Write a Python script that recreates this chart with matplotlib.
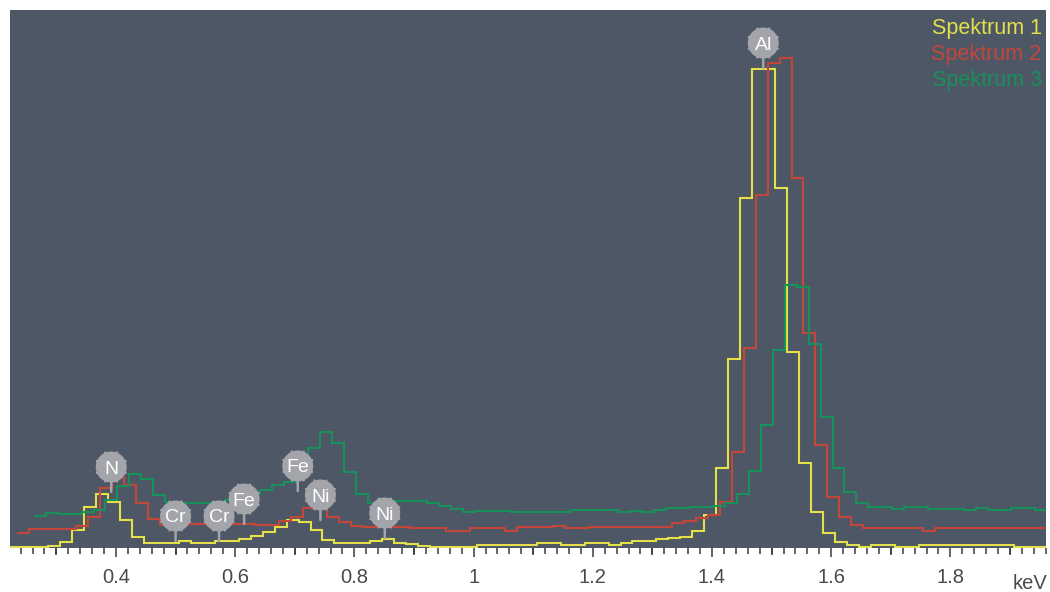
import numpy as np
import matplotlib
matplotlib.use("Agg")
import matplotlib.pyplot as plt
from matplotlib.ticker import MultipleLocator, FixedLocator, FuncFormatter
from matplotlib.transforms import offset_copy

plt.rcParams["font.family"] = ["Liberation Sans", "DejaVu Sans"]

# --- spectrum data: counts per 20 eV channel -------------------------------
channel_width = 0.02  # keV
n_channels = 88
channel_start = {  # lower edge of the first channel, keV
    "Spektrum 1": 0.2065,
    "Spektrum 2": 0.2135,
    "Spektrum 3": 0.2023,
}

spektrum_1 = [1, 1, 1, 1, 2, 6, 18, 41, 54, 46,
              28, 11, 5, 5, 5, 7, 5, 5, 7, 7,
              9, 12, 16, 21, 28, 26, 18, 8, 5, 5,
              5, 7, 9, 5, 4, 2.5, 1.5, 1.5, 1.5, 1.5,
              3, 3, 3, 3, 3, 5, 5, 3, 3, 5,
              5, 3, 5, 7, 7, 9, 10, 11, 17, 33,
              80, 189, 350, 479, 479, 360, 196, 85, 36, 15,
              6, 3.5, 1.5, 3.5, 3.5, 1.5, 1.5, 3.5, 3.5, 3.5,
              3.5, 3.5, 3.5, 3.5, 3.5, 1.5, 1.5, 1.5]

spektrum_2 = [np.nan, 15, 18.7, 18.7, 18.7, 18.7, 22, 31, 60, 71,
              63, 45, 28.7, 23, 24, 24, 24, 24, 24, 24,
              24, 23, 23, 27, 31, 40, 41, 31.3, 26.3, 22,
              20.7, 21.3, 21.3, 21.3, 19.7, 19.7, 19.7, 17.3, 17.3, 19.7,
              19.7, 19.7, 17.3, 21, 21, 21, 22.5, 19.7, 19.7, 21.3,
              21.3, 21.3, 21.3, 21.3, 21.3, 21.3, 24.7, 27, 30, 33,
              46.3, 96.3, 200.5, 353, 484.7, 489.7, 370.3, 214.7, 103, 51.3,
              31.5, 23.5, 19.7, 19.7, 19.7, 19.7, 19.7, 17.3, 19.7, 19.7,
              19.7, 19.7, 19.7, 19.7, 19.7, 19.7, 19.7, 19.7]

spektrum_3 = [np.nan, np.nan, np.nan, 32, 34.7, 34, 34, 36.3, 38, 48,
              62, 74, 68.7, 53, 46.3, 44.7, 44.7, 45.5, 46.3, 48,
              50, 54, 58.5, 62.7, 66, 78, 99.7, 116.3, 104.7, 76.3,
              54, 45, 45, 47, 47, 47, 45.3, 42, 38.7, 36.3,
              37.5, 37.5, 37.5, 35.7, 35.7, 35.7, 35.7, 35.7, 38, 38,
              38, 38, 35.7, 37.3, 35.7, 38, 39.7, 40.5, 41.3, 41.3,
              42, 44.7, 54, 77.3, 123, 198, 263, 261.3, 204, 131.3,
              79.7, 56.3, 44.7, 41.3, 41, 38.7, 41, 41, 39.3, 39.3,
              39.3, 38, 39.7, 38, 38, 39.7, 39.7, 38]

series_names = ["Spektrum 1", "Spektrum 2", "Spektrum 3"]
series_values = [spektrum_1, spektrum_2, spektrum_3]
series_colors = ["#e4e04a", "#c4463a", "#17905c"]

# element line identifications (keV) and the level their pin points to
element_labels = ["N", "Cr", "Cr", "Fe", "Fe", "Ni", "Ni", "Al"]
element_energy = [0.392, 0.500, 0.573, 0.615, 0.705, 0.743, 0.851, 1.486]
element_level = [56, 7, 7, 24, 57, 28, 10, 480]

tick_values = [0.4, 0.6, 0.8, 1.0, 1.2, 1.4, 1.6, 1.8]

# --- figure ---------------------------------------------------------------
W, H = 1050, 592
fig = plt.figure(figsize=(W / 100, H / 100), dpi=100, facecolor="white")
ax_left, ax_right, ax_top, ax_bottom = 10, 1046, 10, 548
ax = fig.add_axes([ax_left / W, (H - ax_bottom) / H,
                   (ax_right - ax_left) / W, (ax_bottom - ax_top) / H])
ax.set_facecolor("#4e5765")
ax.set_xlim(0.2222, 1.9604)
ax.set_ylim(0, 538)
for s in ax.spines.values():
    s.set_visible(False)

draw_order = [2, 0, 1]
for i in draw_order:
    vals = np.asarray(series_values[i], dtype=float)
    valid = ~np.isnan(vals)
    first = np.argmax(valid)
    edges = channel_start[series_names[i]] + channel_width * np.arange(n_channels + 1)
    ax.stairs(vals[first:], edges[first:], baseline=None, fill=False,
              color=series_colors[i], lw=1.5, zorder=3 + i)

# legend text in the upper right corner
for k, (name, col) in enumerate(zip(series_names, series_colors)):
    ybase = 34 + 26 * k
    ax.text(1 - 4.5 / (ax_right - ax_left),
            1 - (ybase - ax_top) / (ax_bottom - ax_top),
            name, color=col, fontsize=15.5, ha="right", va="baseline",
            transform=ax.transAxes, zorder=10)

# element markers: grey pin with a round head
pin_grey = "#a3a5ab"
head_r = 15.5    # px
lift = 25        # px from pin tip to head centre
for lab, e, lvl in zip(element_labels, element_energy, element_level):
    ax.annotate("", xy=(e, lvl), xytext=(0, lift - head_r + 1),
                textcoords="offset pixels",
                arrowprops=dict(arrowstyle="-", color=pin_grey, lw=1.8,
                                shrinkA=0, shrinkB=0), zorder=8)
    head = offset_copy(ax.transData, fig=fig, x=0, y=lift, units="dots")
    ax.scatter([e], [lvl], s=(2 * head_r * 0.72) ** 2, color=pin_grey,
               edgecolors="none", transform=head, zorder=9, clip_on=False)
    for a in np.arange(8) * np.pi / 4 + np.pi / 8:
        nub = offset_copy(ax.transData, fig=fig, x=head_r * np.cos(a),
                          y=lift + head_r * np.sin(a), units="dots")
        ax.scatter([e], [lvl], s=3, color=pin_grey, edgecolors="none",
                   transform=nub, zorder=9, clip_on=False)
    txt = offset_copy(ax.transData, fig=fig, x=0, y=lift, units="dots")
    ax.text(e, lvl, lab, color="white", fontsize=14, ha="center",
            va="center_baseline", transform=txt, zorder=10)

# x axis: labelled every 0.2 keV, medium ticks at 0.1, small ticks at 0.02
ax.xaxis.set_major_locator(FixedLocator(tick_values))
ax.xaxis.set_major_formatter(FuncFormatter(lambda v, p: f"{v:g}"))
ax.xaxis.set_minor_locator(MultipleLocator(0.02))
ax.tick_params(axis="x", which="major", length=6.6, width=1.1, color="#3a3a3a",
               labelsize=14.5, labelcolor="#4a4a4a", pad=8)
ax.tick_params(axis="x", which="minor", length=4.1, width=1.1, color="#3a3a3a")
ax.tick_params(axis="y", left=False, labelleft=False)

mid = ax.secondary_xaxis("bottom")
mid.set_xticks([0.3, 0.5, 0.7, 0.9, 1.1, 1.3, 1.5, 1.7, 1.9])
mid.tick_params(length=5.3, width=1.1, color="#3a3a3a", labelbottom=False)
mid.xaxis.set_minor_locator(plt.NullLocator())
for s in mid.spines.values():
    s.set_visible(False)

fig.text(1047 / W, 1 - 589 / H, "keV", fontsize=14.5, color="#4a4a4a",
         ha="right", va="baseline")

fig.savefig("out.png", dpi=100, facecolor="white")
